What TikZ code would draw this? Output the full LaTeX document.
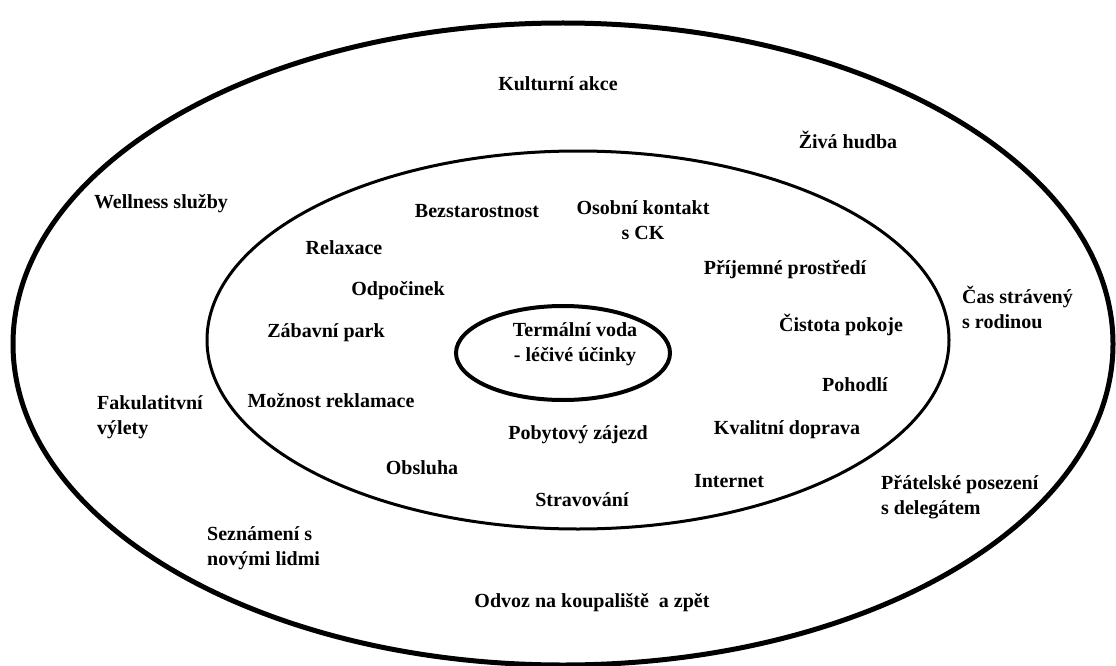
\documentclass[tikz,border=0pt]{standalone}
\usepackage{fontspec}
\setmainfont{Liberation Serif}
\newfontfamily\lblfont{Liberation Serif}[UprightFont=*-Bold, BoldFont=*-Bold]
\begin{document}
\begin{tikzpicture}[x=1pt,y=-1pt,
  lbl/.style={font=\lblfont\fontsize{20}{25}\selectfont, inner sep=0pt, align=center},
  lbll/.style={lbl, align=left, anchor=north west},
  ring/.style={draw=black}]
\useasboundingbox (0,0) rectangle (1116,666);
\draw[ring, line width=5pt] (563,344) ellipse [x radius=550, y radius=321];
\draw[ring, line width=3pt] (578,340) ellipse [x radius=371, y radius=189];
\draw[ring, line width=4pt] (563,353) ellipse [x radius=107, y radius=47];

\node[lbl] (kult) at (558,84) {Kulturní akce};
\node[lbl] (ziva) at (848,140) {Živá hudba};
\node[lbl] (well) at (161,204) {Wellness služby};
\node[lbl] (bezs) at (477,211) {Bezstarostnost};
\node[lbl] (osob) at (643,220) {Osobní kontakt\\s CK};
\node[lbl] (rela) at (344,248) {Relaxace};
\node[lbl] (prij) at (785,270) {Příjemné prostředí};
\node[lbl] (odpo) at (398,291) {Odpočinek};
\node[lbl] (zaba) at (326,333) {Zábavní park};
\node[lbl] (cist) at (841,325) {Čistota pokoje};
\node[lbl] (term) at (575,344) {Termální voda\\- léčivé účinky};
\node[lbll] (cas) at (962,286) {Čas strávený\\s rodinou};
\node[lbl] (poho) at (855,385) {Pohodlí};
\node[lbll] (faku) at (97,395) {Fakulatitvní\\výlety};
\node[lbl] (mozn) at (331,401) {Možnost reklamace};
\node[lbl] (kval) at (787,430) {Kvalitní doprava};
\node[lbl] (poby) at (578,435) {Pobytový zájezd};
\node[lbl] (obsl) at (422,468) {Obsluha};
\node[lbl] (inte) at (729,481) {Internet};
\node[lbll] (prat) at (881,475) {Přátelské posezení\\s delegátem};
\node[lbl] (strav) at (582,500) {Stravování};
\node[lbll] (sezn) at (207,526) {Seznámení s\\novými lidmi};
\node[lbl] (odvo) at (592,603) {Odvoz na koupaliště\ \ a zpět};
\end{tikzpicture}
\end{document}
